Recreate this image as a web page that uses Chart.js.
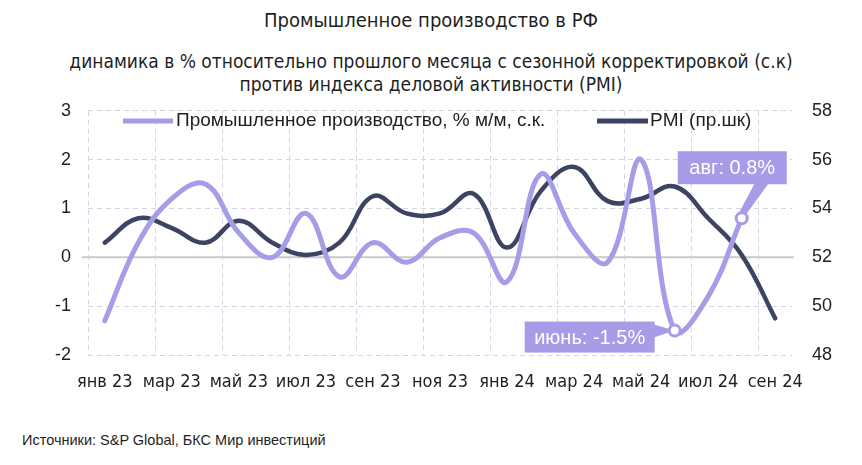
<!DOCTYPE html>
<html>
<head>
<meta charset="utf-8">
<script src="https://cdn.jsdelivr.net/npm/chart.js@4.4.1/dist/chart.umd.min.js"></script>
<style>
  body { margin: 0; background: #fff; width: 862px; height: 465px; overflow: hidden; position: relative; font-family: 'Liberation Sans', Arial, sans-serif; color: #1f1f1f; }
  .t { position: absolute; left: 0; width: 862px; text-align: center; font-family: 'Liberation Sans Narrow', 'DejaVu Sans Condensed', sans-serif; white-space: nowrap; }
  #title { top: 8px; font-size: 20px; }
  #sub1 { top: 50px; font-size: 19px; }
  #sub2 { top: 73px; font-size: 19px; }
  #src { position: absolute; left: 22px; top: 432px; font-size: 14.5px; }
  #wrap { position: absolute; left: 0; top: 80px; width: 862px; height: 320px; }
</style>
</head>
<body>
<div class="t" id="title">Промышленное производство в РФ</div>
<div class="t" id="sub1">динамика в % относительно прошлого месяца с сезонной корректировкой (с.к)</div>
<div class="t" id="sub2">против индекса деловой активности (PMI)</div>
<div id="wrap"><canvas id="myChart" width="862" height="320"></canvas></div>
<div id="src">Источники: S&amp;P Global, БКС Мир инвестиций</div>
<script>
var months = ['янв 23','фев 23','мар 23','апр 23','май 23','июн 23','июл 23','авг 23','сен 23','окт 23','ноя 23','дек 23',
              'янв 24','фев 24','мар 24','апр 24','май 24','июн 24','июл 24','авг 24','сен 24'];
// пром. производство, % м/м, с.к. (левая шкала)
var industry = [-1.3, 0.3, 1.2, 1.5, 0.5, 0.0, 0.9, -0.4, 0.3, -0.1, 0.4, 0.5,
                -0.5, 1.7, 0.5, -0.1, 2.0, -1.5, -0.8, 0.8, null];
// PMI (правая шкала)
var pmi = [52.6, 53.6, 53.2, 52.6, 53.5, 52.6, 52.1, 52.6, 54.5, 53.8, 53.8, 54.6,
           52.4, 54.7, 55.7, 54.3, 54.4, 54.9, 53.6, 52.1, 49.5];
var leftTicks = [-2, -1, 0, 1, 2, 3];
var rightTicks = [48, 50, 52, 54, 56, 58];
var callouts = [
  { index: 17, text: 'июнь: -1.5%' },
  { index: 19, text: 'авг: 0.8%' }
];

var purple = '#a69ce7';
var navy = '#3c4462';
var gridColor = '#d6d3e6';
var legendY = 41;

var extras = {
  id: 'extras',
  beforeDatasetsDraw: function(chart) {
    var c = chart.ctx, a = chart.chartArea, y0 = chart.scales.y.getPixelForValue(0);
    c.save();
    c.strokeStyle = '#c9c9c9';
    c.lineWidth = 2;
    c.beginPath();
    c.moveTo(a.left - 6, y0);
    c.lineTo(a.right + 2, y0);
    c.stroke();
    c.restore();
  },
  afterDatasetsDraw: function(chart) {
    var c = chart.ctx, x = chart.scales.x, y = chart.scales.y;
    c.save();
    c.font = '20px "Liberation Sans", Arial, sans-serif';
    c.textBaseline = 'middle';
    callouts.forEach(function(co) {
      var px = x.getPixelForValue(co.index);
      var py = y.getPixelForValue(industry[co.index]);
      c.fillStyle = purple;
      if (co.index === 17) {
        var l = px - 150, r = px - 20, t = py - 9, b = py + 22;
        c.fillRect(l, t, r - l, b - t);
        c.beginPath();
        c.moveTo(r - 1, py - 6); c.lineTo(px, py); c.lineTo(r - 1, py + 7); c.closePath(); c.fill();
        c.fillStyle = '#fff';
        c.textAlign = 'center';
        c.fillText(co.text, (l + r) / 2, (t + b) / 2 + 1);
      } else {
        var l2 = px - 64, r2 = px + 45, t2 = py - 67, b2 = py - 34;
        c.fillRect(l2, t2, r2 - l2, b2 - t2);
        c.beginPath();
        c.moveTo(px + 13, b2 - 1); c.lineTo(px + 27, b2 - 1); c.lineTo(px + 3, py - 2); c.lineTo(px - 4, py - 3); c.closePath(); c.fill();
        c.fillStyle = '#fff';
        c.textAlign = 'center';
        c.fillText(co.text, (l2 + r2) / 2, (t2 + b2) / 2 + 1);
      }
      c.beginPath();
      c.arc(px, py, 5.5, 0, Math.PI * 2);
      c.fillStyle = '#fff';
      c.fill();
      c.lineWidth = 3;
      c.strokeStyle = purple;
      c.stroke();
    });
    c.restore();
  },
  afterDraw: function(chart) {
    var c = chart.ctx;
    c.save();
    c.font = '19px "Liberation Sans", Arial, sans-serif';
    c.textBaseline = 'middle';
    c.textAlign = 'left';
    c.lineWidth = 5;
    c.strokeStyle = purple;
    c.beginPath(); c.moveTo(123, legendY); c.lineTo(173, legendY); c.stroke();
    c.fillStyle = '#1f1f1f';
    c.fillText('Промышленное производство, % м/м, с.к.', 176, legendY);
    c.strokeStyle = navy;
    c.beginPath(); c.moveTo(597, legendY); c.lineTo(648, legendY); c.stroke();
    c.fillText('PMI (пр.шк)', 650, legendY);
    c.restore();
  }
};

const ctx = document.getElementById('myChart');

new Chart(ctx, {
  type: 'line',
  data: {
    labels: months,
    datasets: [{
      label: 'Промышленное производство, % м/м, с.к.',
      data: industry,
      yAxisID: 'y',
      borderColor: purple,
      backgroundColor: purple,
      borderWidth: 5,
      tension: 0.4,
      pointRadius: 0,
      borderCapStyle: 'round'
    }, {
      label: 'PMI (пр.шк)',
      data: pmi,
      yAxisID: 'y1',
      borderColor: navy,
      backgroundColor: navy,
      borderWidth: 4.5,
      tension: 0.4,
      pointRadius: 0,
      borderCapStyle: 'round'
    }]
  },
  options: {
    responsive: false,
    animation: false,
    devicePixelRatio: 1,
    layout: { padding: { top: 10, left: 0, right: 0, bottom: 0 } },
    plugins: {
      legend: { display: false },
      tooltip: { enabled: false }
    },
    scales: {
      x: {
        offset: true,
        afterFit: function(s) { s.height = 45; },
        grid: {
          offset: true,
          drawTicks: false,
          color: function(c) { return c.index % 2 === 0 ? gridColor : 'rgba(0,0,0,0)'; },
          lineWidth: 1
        },
        border: { display: false, dash: [5, 4] },
        ticks: {
          autoSkip: false,
          maxRotation: 0,
          padding: 17,
          color: '#1f1f1f',
          font: { family: "'Liberation Sans Narrow', 'DejaVu Sans Condensed', sans-serif", size: 18 },
          callback: function(v, i) { return i % 2 === 0 ? months[i] : ''; }
        }
      },
      y: {
        position: 'left',
        min: leftTicks[0],
        max: leftTicks[leftTicks.length - 1],
        afterFit: function(s) { s.width = 88; },
        afterBuildTicks: function(s) { s.ticks = leftTicks.map(function(v) { return { value: v }; }); },
        grid: { drawTicks: false, color: gridColor, lineWidth: 1 },
        border: { display: false, dash: [5, 4] },
        ticks: {
          padding: 17,
          color: '#1f1f1f',
          font: { family: "'Liberation Sans', Arial, sans-serif", size: 18 }
        }
      },
      y1: {
        position: 'right',
        min: rightTicks[0],
        max: rightTicks[rightTicks.length - 1],
        afterFit: function(s) { s.width = 70; },
        afterBuildTicks: function(s) { s.ticks = rightTicks.map(function(v) { return { value: v }; }); },
        grid: { drawOnChartArea: false, drawTicks: false },
        border: { display: false },
        ticks: {
          padding: 20,
          color: '#1f1f1f',
          font: { family: "'Liberation Sans', Arial, sans-serif", size: 18 }
        }
      }
    }
  },
  plugins: [extras]
});
</script>
</body>
</html>
